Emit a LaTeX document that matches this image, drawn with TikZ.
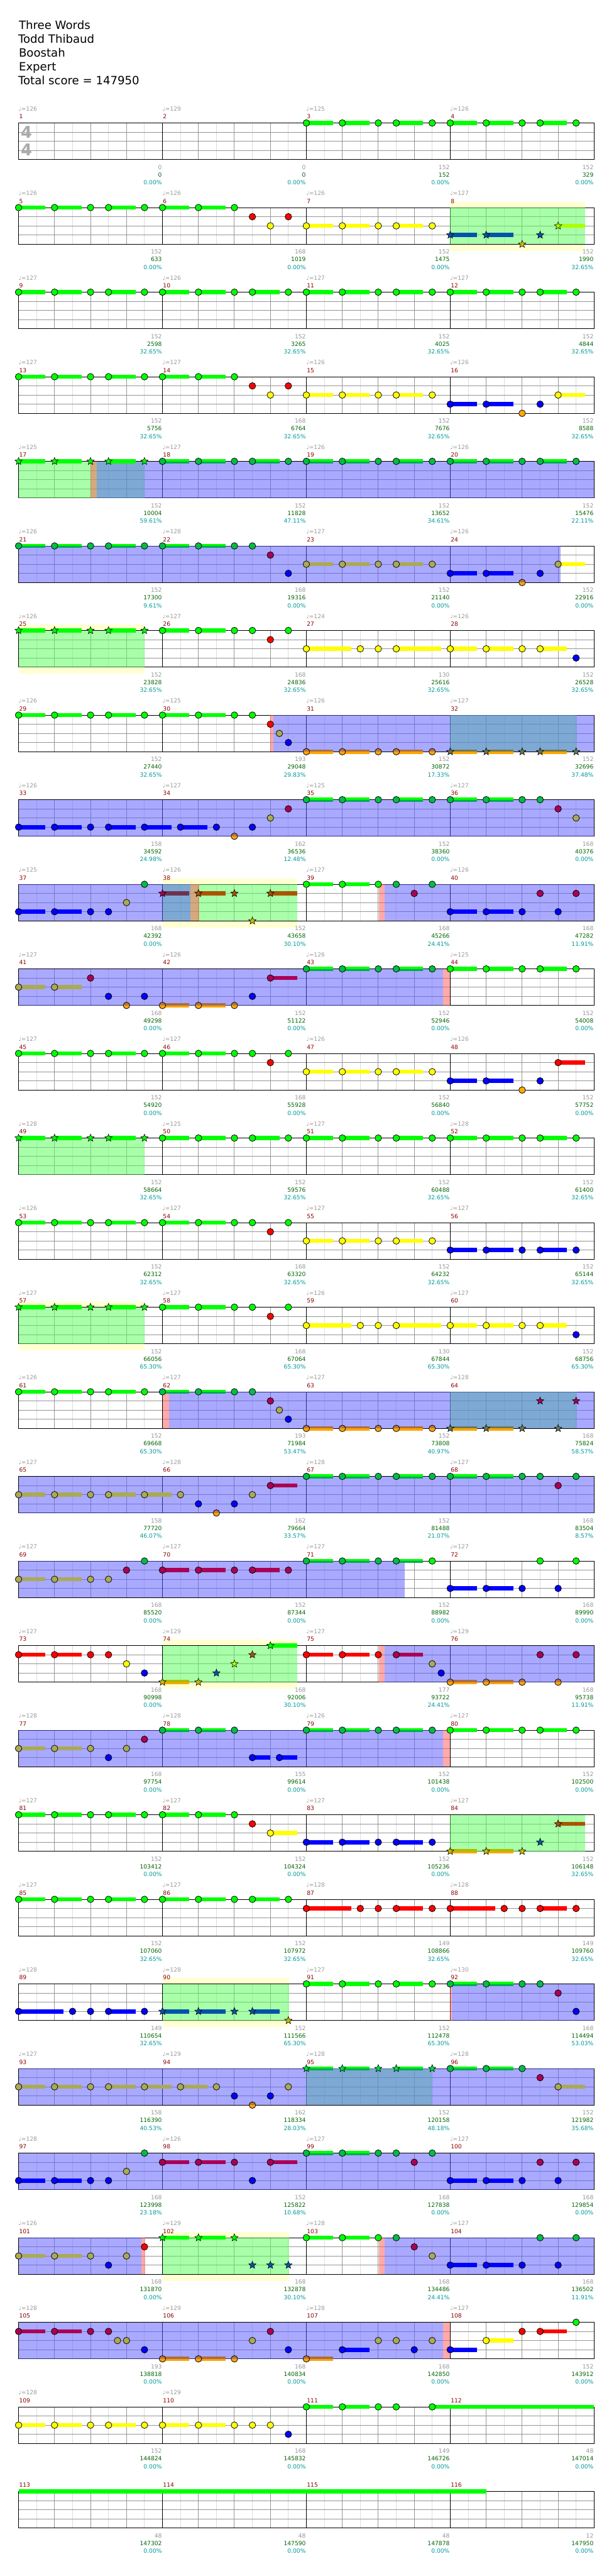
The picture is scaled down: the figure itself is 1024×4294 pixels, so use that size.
\documentclass[tikz,border=0pt]{standalone}
\usepackage{fontspec}
\setmainfont{DejaVu Sans}
\usetikzlibrary{shapes.geometric}
\definecolor{cTempo}{RGB}{155,155,155}
\definecolor{cNum}{RGB}{139,0,0}
\definecolor{cA}{RGB}{150,150,150}
\definecolor{cB}{RGB}{0,100,0}
\definecolor{cC}{RGB}{0,153,153}
\definecolor{cGrid}{RGB}{150,150,150}
\definecolor{cLight}{RGB}{220,220,220}
\definecolor{cYel}{RGB}{255,255,210}
\definecolor{cTS}{RGB}{170,170,170}
\definecolor{ovG}{RGB}{85,255,85}
\definecolor{ovB}{RGB}{85,85,255}
\definecolor{ovR}{RGB}{255,85,85}
\newcommand\dnc[3]{\definecolor{nT#1}{RGB}{#2}\definecolor{nB#1}{RGB}{#3}}
\newcommand\dsc[3]{\definecolor{uT#1}{RGB}{#2}\definecolor{uB#1}{RGB}{#3}}
\dnc{Gn}{0,255,0}{0,255,0}\dnc{Rn}{255,0,0}{255,0,0}\dnc{Yn}{255,255,0}{255,255,0}
\dnc{Bn}{0,0,255}{0,0,255}\dnc{On}{255,170,0}{255,170,0}
\dnc{Gt}{0,190,70}{0,190,70}\dnc{Rt}{170,0,85}{170,0,85}\dnc{Yt}{170,170,85}{170,170,85}
\dnc{Bt}{0,0,255}{0,0,255}\dnc{Ot}{180,115,70}{255,165,0}
\dnc{Gs}{0,255,0}{0,255,0}\dnc{Rs}{170,85,0}{170,85,0}\dnc{Ys}{170,255,0}{170,255,0}
\dnc{Bs}{0,85,170}{0,85,170}\dnc{Os}{200,190,0}{200,190,0}
\dnc{Gx}{0,220,60}{0,220,60}\dnc{Rx}{170,0,85}{170,0,85}\dnc{Yx}{170,170,85}{170,170,85}
\dnc{Bx}{0,0,200}{0,0,200}\dnc{Ox}{100,120,90}{100,120,90}
\dsc{Gn}{0,255,0}{0,255,0}\dsc{Rn}{255,0,0}{255,0,0}\dsc{Yn}{255,255,0}{255,255,0}
\dsc{Bn}{0,0,255}{0,0,255}\dsc{On}{255,170,0}{255,170,0}
\dsc{Gt}{0,255,0}{0,170,85}\dsc{Rt}{170,0,85}{170,0,85}\dsc{Yt}{170,170,85}{170,170,85}
\dsc{Bt}{0,0,255}{0,0,255}\dsc{Ot}{170,110,70}{255,165,0}
\dsc{Gs}{0,255,0}{0,255,0}\dsc{Rs}{170,85,0}{170,85,0}\dsc{Ys}{170,255,0}{170,255,0}
\dsc{Bs}{0,85,170}{0,85,170}\dsc{Os}{170,190,0}{255,165,0}
\dsc{Gx}{0,255,0}{0,170,85}\dsc{Rx}{110,50,80}{110,50,80}\dsc{Yx}{170,170,85}{170,170,85}
\dsc{Bx}{0,0,200}{0,0,200}\dsc{Ox}{110,120,80}{255,165,0}
\def\lnG{0}\def\lnR{1}\def\lnY{2}\def\lnB{3}\def\lnO{4}
\tikzset{
  lbl/.style={inner sep=0pt,outer sep=0pt,font=\fontsize{9.6}{10}\selectfont},
  tempo/.style={lbl,text=cTempo,anchor=base west},
  mnum/.style={lbl,text=cNum,anchor=base west},
  labA/.style={lbl,text=cA,anchor=base east},
  labB/.style={lbl,text=cB,anchor=base east},
  labC/.style={lbl,text=cC,anchor=base east},
  ttl/.style={inner sep=0pt,anchor=base west,font=\fontsize{19}{22}\selectfont},
  tsig/.style={inner sep=0pt,text=cTS,font=\fontsize{27}{27}\bfseries\selectfont},
  starnote/.style={star,star points=5,star point ratio=2.3,minimum size=13pt,inner sep=0pt,draw=black,line width=0.6pt}
}
\newcommand\staffrow[1]{%
  \pgfmathsetmacro\qt{205+141*(#1)}%
  \fill[white] (31,\qt) rectangle (991,\qt+61);
  \foreach \i in {1,3,...,31} \draw[cLight] ({31+30*\i},\qt) -- ++(0,61);
  \foreach \i in {2,4,6,10,12,14,18,20,22,26,28,30} \draw[cGrid] ({31+30*\i},\qt) -- ++(0,61);
  \foreach \j in {1,2,3} \draw[cGrid] (31,\qt+15.25*\j) -- (991,\qt+15.25*\j);
  \foreach \k in {1,2,3} \draw[black] ({31+240*\k},\qt) -- ++(0,61);
  \draw[black] (31,\qt) rectangle (991,\qt+61);}
\newcommand\yband[3]{\fill[cYel] (#2,{205+141*(#1)-10}) rectangle (#3,{205+141*(#1)+72});}
\newcommand\ovl[4]{\fill[#4,opacity=0.5] (#2,{205+141*(#1)}) rectangle (#3,{205+141*(#1)+61});}
\newcommand\noteC[4]{%
  \pgfmathsetmacro\qx{31+15*(#2)}%
  \pgfmathsetmacro\qy{205+141*(#1)+15.25*\csname ln#3\endcsname}%
  \fill[nT#3#4] (\qx,\qy) circle[radius=5.5];
  \fill[nB#3#4] (\qx-5.5,\qy) arc[start angle=180,end angle=0,radius=5.5] -- cycle;
  \draw[line width=0.8pt] (\qx,\qy) circle[radius=5.5];}
\newcommand\susC[5]{%
  \pgfmathsetmacro\qx{31+15*(#2)}%
  \pgfmathsetmacro\qy{205+141*(#1)+15.25*\csname ln#3\endcsname}%
  \pgfmathsetmacro\qw{15*(#4)}%
  \fill[uT#3#5] (\qx,\qy-3.5) rectangle ++(\qw,3.5);
  \fill[uB#3#5] (\qx,\qy) rectangle ++(\qw,3.5);}
\newcommand\starC[4]{%
  \pgfmathsetmacro\qx{31+15*(#2)}%
  \pgfmathsetmacro\qy{205+141*(#1)+15.25*\csname ln#3\endcsname}%
  \node[starnote,fill=nT#3#4] at (\qx,\qy) {};}
\newcommand\noteS[5]{\susC{#1}{#2}{#3}{#5}{#4}\noteC{#1}{#2}{#3}{#4}}
\newcommand\starS[5]{\susC{#1}{#2}{#3}{#5}{#4}\starC{#1}{#2}{#3}{#4}}
\newcommand\patA[4]{\noteS{#1}{16*#2}{#3}{#4}{3}\noteS{#1}{16*#2+4}{#3}{#4}{3}\noteC{#1}{16*#2+8}{#3}{#4}\noteS{#1}{16*#2+10}{#3}{#4}{3}\noteC{#1}{16*#2+14}{#3}{#4}}
\newcommand\patS[4]{\starS{#1}{16*#2}{#3}{#4}{3}\starS{#1}{16*#2+4}{#3}{#4}{3}\starC{#1}{16*#2+8}{#3}{#4}\starS{#1}{16*#2+10}{#3}{#4}{3}\starC{#1}{16*#2+14}{#3}{#4}}
\newcommand\meas[7]{%
  \pgfmathsetmacro\qm{31+240*(#2)}%
  \pgfmathsetmacro\qt{205+141*(#1)}%
  \if\relax\detokenize{#3}\relax\else\node[tempo] (t#4) at (\qm,\qt-20) {♩=#3};\fi
  \node[mnum] (n#4) at (\qm+1,\qt-7) {#4};
  \node[labA] (a#4) at (\qm+239,\qt+77) {#5};
  \node[labB] (b#4) at (\qm+239,\qt+90) {#6};
  \node[labC] (c#4) at (\qm+239,\qt+103) {#7\%};}
\begin{document}
\begin{tikzpicture}[x=1pt,y=-1pt,line width=1pt]
\useasboundingbox (0,0) rectangle (1024,4294);
\fill[white] (0,0) rectangle (1024,4294);
% title
\node[ttl] (ttl1) at (31,49) {Three Words};
\node[ttl] (ttl2) at (30,72) {Todd Thibaud};
\node[ttl] (ttl3) at (31,95) {Boostah};
\node[ttl] (ttl4) at (31,118) {Expert};
\node[ttl] (ttl5) at (30,141) {Total score = 147950};
% star-phrase bands
\yband{1}{751}{976}\yband{6}{31}{241}\yband{9}{271}{496}\yband{14}{31}{241}
\yband{18}{271}{496}\yband{22}{271}{482}\yband{25}{271}{482}
% staves
\foreach \r in {0,...,28} {\staffrow{\r}}
\node[tsig] (ts1) at (44,220) {4};
\node[tsig] (ts2) at (44,250) {4};
% overlays
\ovl{1}{751}{976}{ovG}
\ovl{4}{31}{241}{ovG}\ovl{4}{151}{161}{ovR}\ovl{4}{161}{991}{ovB}
\ovl{5}{31}{935}{ovB}
\ovl{6}{31}{241}{ovG}
\ovl{7}{751}{962}{ovG}\ovl{7}{451}{456}{ovR}\ovl{7}{456}{991}{ovB}
\ovl{8}{31}{991}{ovB}
\ovl{9}{271}{496}{ovG}\ovl{9}{31}{318}{ovB}\ovl{9}{318}{332}{ovR}\ovl{9}{632}{642}{ovR}\ovl{9}{642}{991}{ovB}
\ovl{10}{31}{739}{ovB}\ovl{10}{739}{751}{ovR}
\ovl{12}{31}{241}{ovG}
\ovl{14}{31}{241}{ovG}
\ovl{15}{751}{962}{ovG}\ovl{15}{271}{282}{ovR}\ovl{15}{282}{991}{ovB}
\ovl{16}{31}{991}{ovB}
\ovl{17}{31}{675}{ovB}
\ovl{18}{271}{496}{ovG}\ovl{18}{632}{642}{ovR}\ovl{18}{642}{991}{ovB}
\ovl{19}{31}{739}{ovB}\ovl{19}{739}{751}{ovR}
\ovl{20}{751}{976}{ovG}
\ovl{22}{271}{482}{ovG}\ovl{22}{751}{754}{ovR}\ovl{22}{754}{991}{ovB}
\ovl{23}{511}{721}{ovG}\ovl{23}{31}{991}{ovB}
\ovl{24}{31}{991}{ovB}
\ovl{25}{31}{236}{ovB}\ovl{25}{236}{242}{ovR}\ovl{25}{271}{482}{ovG}\ovl{25}{632}{642}{ovR}\ovl{25}{642}{991}{ovB}
\ovl{26}{31}{739}{ovB}\ovl{26}{739}{751}{ovR}
% ---------------- notes
% r0
\patA{0}{2}{G}{n}\patA{0}{3}{G}{n}
% r1
\patA{1}{0}{G}{n}
\noteS{1}{16}{G}{n}{3}\noteS{1}{20}{G}{n}{3}\noteC{1}{24}{G}{n}\noteC{1}{26}{R}{n}\noteC{1}{28}{Y}{n}\noteC{1}{30}{R}{n}
\patA{1}{2}{Y}{n}
\starS{1}{48}{B}{s}{3}\starS{1}{52}{B}{s}{3}\starC{1}{56}{O}{s}\starC{1}{58}{B}{s}\starS{1}{60}{Y}{s}{3}
% r2
\patA{2}{0}{G}{n}\patA{2}{1}{G}{n}\patA{2}{2}{G}{n}\patA{2}{3}{G}{n}
% r3
\patA{3}{0}{G}{n}
\noteS{3}{16}{G}{n}{3}\noteS{3}{20}{G}{n}{3}\noteC{3}{24}{G}{n}\noteC{3}{26}{R}{n}\noteC{3}{28}{Y}{n}\noteC{3}{30}{R}{n}
\patA{3}{2}{Y}{n}
\noteS{3}{48}{B}{n}{3}\noteS{3}{52}{B}{n}{3}\noteC{3}{56}{O}{n}\noteC{3}{58}{B}{n}\noteS{3}{60}{Y}{n}{3}
% r4
\patS{4}{0}{G}{s}\patA{4}{1}{G}{t}\patA{4}{2}{G}{t}\patA{4}{3}{G}{t}
% r5
\patA{5}{0}{G}{t}
\noteS{5}{16}{G}{t}{3}\noteS{5}{20}{G}{t}{3}\noteC{5}{24}{G}{t}\noteC{5}{26}{G}{t}\noteC{5}{28}{R}{t}\noteC{5}{30}{B}{t}
\patA{5}{2}{Y}{t}
\noteS{5}{48}{B}{t}{3}\noteS{5}{52}{B}{t}{3}\noteC{5}{56}{O}{t}\noteC{5}{58}{B}{t}\susC{5}{60}{Y}{3}{n}\noteC{5}{60}{Y}{t}
% r6
\patS{6}{0}{G}{s}
\noteS{6}{16}{G}{n}{3}\noteS{6}{20}{G}{n}{3}\noteC{6}{24}{G}{n}\noteC{6}{26}{G}{n}\noteC{6}{28}{R}{n}\noteC{6}{30}{G}{n}
\noteS{6}{32}{Y}{n}{5}\noteC{6}{38}{Y}{n}\noteC{6}{40}{Y}{n}\noteS{6}{42}{Y}{n}{5}
\noteS{6}{48}{Y}{n}{3}\noteS{6}{52}{Y}{n}{3}\noteC{6}{56}{Y}{n}\noteS{6}{58}{Y}{n}{3}\noteC{6}{62}{B}{n}
% r7
\patA{7}{0}{G}{n}
\noteS{7}{16}{G}{n}{3}\noteS{7}{20}{G}{n}{3}\noteC{7}{24}{G}{n}\noteC{7}{26}{G}{n}\noteC{7}{28}{R}{n}\noteC{7}{29}{Y}{t}\noteC{7}{30}{B}{t}
\patA{7}{2}{O}{t}\patS{7}{3}{O}{x}
% r8
\noteS{8}{0}{B}{t}{3}\noteS{8}{4}{B}{t}{3}\noteC{8}{8}{B}{t}\noteS{8}{10}{B}{t}{3}\noteS{8}{14}{B}{t}{3}
\noteS{8}{18}{B}{t}{3}\noteC{8}{22}{B}{t}\noteC{8}{24}{O}{t}\noteC{8}{26}{B}{t}\noteC{8}{28}{Y}{t}\noteC{8}{30}{R}{t}
\patA{8}{2}{G}{t}
\noteS{8}{48}{G}{t}{3}\noteS{8}{52}{G}{t}{3}\noteC{8}{56}{G}{t}\noteC{8}{58}{G}{t}\noteC{8}{60}{R}{t}\noteC{8}{62}{Y}{t}
% r9
\noteS{9}{0}{B}{t}{3}\noteS{9}{4}{B}{t}{3}\noteC{9}{8}{B}{t}\noteC{9}{10}{B}{t}\noteC{9}{12}{Y}{t}\noteC{9}{14}{G}{t}
\starS{9}{16}{R}{x}{3}\starS{9}{20}{R}{s}{3}\starC{9}{24}{R}{s}\starC{9}{26}{O}{s}\starS{9}{28}{R}{s}{3}
\noteS{9}{32}{G}{n}{3}\noteS{9}{36}{G}{n}{3}\noteC{9}{40}{G}{n}\noteC{9}{42}{G}{t}\noteC{9}{44}{R}{t}\noteC{9}{46}{G}{t}
\noteS{9}{48}{B}{t}{3}\noteS{9}{52}{B}{t}{3}\noteC{9}{56}{B}{t}\noteC{9}{58}{R}{t}\noteC{9}{60}{B}{t}\noteC{9}{62}{R}{t}
% r10
\noteS{10}{0}{Y}{t}{3}\noteS{10}{4}{Y}{t}{3}\noteC{10}{8}{R}{t}\noteC{10}{10}{B}{t}\noteC{10}{12}{O}{t}\noteC{10}{14}{B}{t}
\noteS{10}{16}{O}{t}{3}\noteS{10}{20}{O}{t}{3}\noteC{10}{24}{O}{t}\noteC{10}{26}{B}{t}\noteS{10}{28}{R}{t}{3}
\patA{10}{2}{G}{t}\patA{10}{3}{G}{n}
% r11
\patA{11}{0}{G}{n}
\noteS{11}{16}{G}{n}{3}\noteS{11}{20}{G}{n}{3}\noteC{11}{24}{G}{n}\noteC{11}{26}{G}{n}\noteC{11}{28}{R}{n}\noteC{11}{30}{G}{n}
\patA{11}{2}{Y}{n}
\noteS{11}{48}{B}{n}{3}\noteS{11}{52}{B}{n}{3}\noteC{11}{56}{O}{n}\noteC{11}{58}{B}{n}\noteS{11}{60}{R}{n}{3}
% r12
\patS{12}{0}{G}{s}\patA{12}{1}{G}{n}\patA{12}{2}{G}{n}\patA{12}{3}{G}{n}
% r13
\patA{13}{0}{G}{n}
\noteS{13}{16}{G}{n}{3}\noteS{13}{20}{G}{n}{3}\noteC{13}{24}{G}{n}\noteC{13}{26}{G}{n}\noteC{13}{28}{R}{n}\noteC{13}{30}{G}{n}
\patA{13}{2}{Y}{n}\patA{13}{3}{B}{n}
% r14
\patS{14}{0}{G}{s}
\noteS{14}{16}{G}{n}{3}\noteS{14}{20}{G}{n}{3}\noteC{14}{24}{G}{n}\noteC{14}{26}{G}{n}\noteC{14}{28}{R}{n}\noteC{14}{30}{G}{n}
\noteS{14}{32}{Y}{n}{5}\noteC{14}{38}{Y}{n}\noteC{14}{40}{Y}{n}\noteS{14}{42}{Y}{n}{5}
\noteS{14}{48}{Y}{n}{3}\noteS{14}{52}{Y}{n}{3}\noteC{14}{56}{Y}{n}\noteS{14}{58}{Y}{n}{3}\noteC{14}{62}{B}{n}
% r15
\patA{15}{0}{G}{n}
\noteS{15}{16}{G}{t}{3}\noteS{15}{20}{G}{t}{3}\noteC{15}{24}{G}{t}\noteC{15}{26}{G}{t}\noteC{15}{28}{R}{t}\noteC{15}{29}{Y}{t}\noteC{15}{30}{B}{t}
\patA{15}{2}{O}{t}
\starS{15}{48}{O}{x}{3}\starS{15}{52}{O}{x}{3}\starC{15}{56}{O}{x}\starC{15}{58}{R}{x}\starC{15}{60}{O}{x}\starC{15}{62}{R}{x}
% r16
\noteS{16}{0}{Y}{t}{3}\noteS{16}{4}{Y}{t}{3}\noteC{16}{8}{Y}{t}\noteS{16}{10}{Y}{t}{3}\noteS{16}{14}{Y}{t}{3}
\noteC{16}{18}{Y}{t}\noteC{16}{20}{B}{t}\noteC{16}{22}{O}{t}\noteC{16}{24}{B}{t}\noteC{16}{26}{Y}{t}\noteS{16}{28}{R}{t}{3}
\patA{16}{2}{G}{t}
\noteS{16}{48}{G}{t}{3}\noteS{16}{52}{G}{t}{3}\noteC{16}{56}{G}{t}\noteC{16}{58}{G}{t}\noteC{16}{60}{R}{t}\noteC{16}{62}{G}{t}
% r17
\noteS{17}{0}{Y}{t}{3}\noteS{17}{4}{Y}{t}{3}\noteC{17}{8}{Y}{t}\noteC{17}{10}{Y}{t}\noteC{17}{12}{R}{t}\noteC{17}{14}{G}{t}
\noteS{17}{16}{R}{t}{3}\noteS{17}{20}{R}{t}{3}\noteC{17}{24}{R}{t}\noteS{17}{26}{R}{t}{3}\noteC{17}{30}{R}{t}
\noteS{17}{32}{G}{t}{3}\noteS{17}{36}{G}{t}{3}\noteC{17}{40}{G}{t}\noteS{17}{42}{G}{t}{3}\noteC{17}{46}{G}{n}
\noteS{17}{48}{B}{n}{3}\noteS{17}{52}{B}{n}{3}\noteC{17}{56}{B}{n}\noteC{17}{58}{G}{n}\noteC{17}{60}{B}{n}\noteC{17}{62}{G}{n}
% r18
\noteS{18}{0}{R}{n}{3}\noteS{18}{4}{R}{n}{3}\noteC{18}{8}{R}{n}\noteC{18}{10}{R}{n}\noteC{18}{12}{Y}{n}\noteC{18}{14}{B}{n}
\starS{18}{16}{O}{s}{3}\starC{18}{20}{O}{s}\starC{18}{22}{B}{s}\starC{18}{24}{Y}{s}\starC{18}{26}{R}{s}\starS{18}{28}{G}{s}{3}
\noteS{18}{32}{R}{n}{3}\noteS{18}{36}{R}{n}{3}\noteC{18}{40}{R}{n}\noteS{18}{42}{R}{t}{3}\noteC{18}{46}{Y}{t}\noteC{18}{47}{B}{t}
\noteS{18}{48}{O}{t}{3}\noteS{18}{52}{O}{t}{3}\noteC{18}{56}{O}{t}\noteC{18}{58}{R}{t}\noteC{18}{60}{O}{t}\noteC{18}{62}{R}{t}
% r19
\noteS{19}{0}{Y}{t}{3}\noteS{19}{4}{Y}{t}{3}\noteC{19}{8}{Y}{t}\noteC{19}{10}{B}{t}\noteC{19}{12}{Y}{t}\noteC{19}{14}{R}{t}
\noteS{19}{16}{G}{t}{3}\noteS{19}{20}{G}{t}{3}\noteC{19}{24}{G}{t}\noteS{19}{26}{B}{t}{2}\noteS{19}{29}{B}{t}{2}
\patA{19}{2}{G}{t}\patA{19}{3}{G}{n}
% r20
\patA{20}{0}{G}{n}
\noteS{20}{16}{G}{n}{3}\noteS{20}{20}{G}{n}{3}\noteC{20}{24}{G}{n}\noteC{20}{26}{R}{n}\noteS{20}{28}{Y}{n}{3}
\patA{20}{2}{B}{n}
\starS{20}{48}{O}{s}{3}\starS{20}{52}{O}{s}{3}\starC{20}{56}{O}{s}\starC{20}{58}{B}{s}\starS{20}{60}{R}{s}{3}
% r21
\patA{21}{0}{G}{n}\patA{21}{1}{G}{n}
\noteS{21}{32}{R}{n}{5}\noteC{21}{38}{R}{n}\noteC{21}{40}{R}{n}\noteS{21}{42}{R}{n}{3}\noteC{21}{46}{R}{n}
\noteS{21}{48}{R}{n}{5}\noteC{21}{54}{R}{n}\noteC{21}{56}{R}{n}\noteS{21}{58}{R}{n}{3}\noteC{21}{62}{R}{n}
% r22
\noteS{22}{0}{B}{n}{5}\noteC{22}{6}{B}{n}\noteC{22}{8}{B}{n}\noteS{22}{10}{B}{n}{3}\noteC{22}{14}{B}{n}
\starS{22}{16}{B}{s}{3}\starS{22}{20}{B}{s}{3}\starC{22}{24}{B}{s}\starS{22}{26}{B}{s}{3}\starC{22}{30}{O}{s}
\patA{22}{2}{G}{n}
\noteS{22}{48}{G}{t}{3}\noteS{22}{52}{G}{t}{3}\noteC{22}{56}{G}{t}\noteC{22}{58}{G}{t}\noteC{22}{60}{R}{t}\noteC{22}{62}{B}{t}
% r23
\noteS{23}{0}{Y}{t}{3}\noteS{23}{4}{Y}{t}{3}\noteC{23}{8}{Y}{t}\noteS{23}{10}{Y}{t}{3}\noteS{23}{14}{Y}{t}{3}
\noteS{23}{18}{Y}{t}{3}\noteC{23}{22}{Y}{t}\noteC{23}{24}{B}{t}\noteC{23}{26}{O}{t}\noteC{23}{28}{B}{t}\noteC{23}{30}{Y}{t}
\patS{23}{2}{G}{x}
\noteS{23}{48}{G}{t}{3}\noteS{23}{52}{G}{t}{3}\noteC{23}{56}{G}{t}\noteC{23}{58}{R}{t}\noteS{23}{60}{Y}{t}{3}
% r24
\noteS{24}{0}{B}{t}{3}\noteS{24}{4}{B}{t}{3}\noteC{24}{8}{B}{t}\noteC{24}{10}{B}{t}\noteC{24}{12}{Y}{t}\noteC{24}{14}{G}{t}
\noteS{24}{16}{R}{t}{3}\noteS{24}{20}{R}{t}{3}\noteC{24}{24}{R}{t}\noteC{24}{26}{B}{t}\noteS{24}{28}{R}{t}{3}
\noteS{24}{32}{G}{t}{3}\noteS{24}{36}{G}{t}{3}\noteC{24}{40}{G}{t}\noteC{24}{42}{G}{t}\noteC{24}{44}{R}{t}\noteC{24}{46}{G}{t}
\noteS{24}{48}{B}{t}{3}\noteS{24}{52}{B}{t}{3}\noteC{24}{56}{B}{t}\noteC{24}{58}{R}{t}\noteC{24}{60}{B}{t}\noteC{24}{62}{R}{t}
% r25
\noteS{25}{0}{Y}{t}{3}\noteS{25}{4}{Y}{t}{3}\noteC{25}{8}{Y}{t}\noteC{25}{10}{B}{t}\noteC{25}{12}{Y}{t}\noteC{25}{14}{R}{n}
\starS{25}{16}{G}{s}{3}\starS{25}{20}{G}{s}{3}\starC{25}{24}{G}{s}\starC{25}{26}{B}{s}\starC{25}{28}{B}{s}\starC{25}{30}{B}{s}
\noteS{25}{32}{G}{n}{3}\noteS{25}{36}{G}{n}{3}\noteC{25}{40}{G}{n}\noteC{25}{42}{G}{t}\noteC{25}{44}{R}{t}\noteC{25}{46}{Y}{t}
\noteS{25}{48}{B}{t}{3}\noteS{25}{52}{B}{t}{3}\noteC{25}{56}{B}{t}\noteC{25}{58}{G}{t}\noteC{25}{60}{B}{t}\noteC{25}{62}{G}{t}
% r26
\noteS{26}{0}{R}{t}{3}\noteS{26}{4}{R}{t}{3}\noteC{26}{8}{R}{t}\noteC{26}{10}{R}{t}\noteC{26}{11}{Y}{t}\noteC{26}{12}{Y}{t}\noteC{26}{14}{B}{t}
\noteS{26}{16}{O}{t}{3}\noteS{26}{20}{O}{t}{3}\noteC{26}{24}{O}{t}\noteC{26}{26}{Y}{t}\noteC{26}{28}{R}{t}\noteC{26}{30}{B}{t}
\noteS{26}{32}{O}{t}{3}\noteS{26}{36}{B}{t}{3}\noteC{26}{40}{Y}{t}\noteC{26}{42}{Y}{t}\noteC{26}{44}{B}{t}\noteC{26}{46}{Y}{t}
\susC{26}{48}{B}{3}{n}\noteC{26}{48}{B}{t}\noteS{26}{52}{Y}{n}{3}\noteC{26}{56}{R}{n}\noteS{26}{58}{R}{n}{3}\noteC{26}{62}{G}{n}
% r27
\patA{27}{0}{Y}{n}
\noteS{27}{16}{Y}{n}{3}\noteS{27}{20}{Y}{n}{3}\noteC{27}{24}{Y}{n}\noteC{27}{26}{Y}{n}\noteC{27}{28}{Y}{n}\noteC{27}{30}{B}{n}
\noteS{27}{32}{G}{n}{3}\noteS{27}{36}{G}{n}{3}\noteC{27}{40}{G}{n}\noteC{27}{42}{G}{n}\susC{27}{46}{G}{18}{n}\noteC{27}{46}{G}{n}
% r28
\susC{28}{0}{G}{52}{n}
% ---------------- labels
\meas{0}{0}{126}{1}{0}{0}{0.00}\meas{0}{1}{129}{2}{0}{0}{0.00}\meas{0}{2}{125}{3}{152}{152}{0.00}\meas{0}{3}{126}{4}{152}{329}{0.00}
\meas{1}{0}{126}{5}{152}{633}{0.00}\meas{1}{1}{126}{6}{168}{1019}{0.00}\meas{1}{2}{126}{7}{152}{1475}{0.00}\meas{1}{3}{127}{8}{152}{1990}{32.65}
\meas{2}{0}{127}{9}{152}{2598}{32.65}\meas{2}{1}{126}{10}{152}{3265}{32.65}\meas{2}{2}{127}{11}{152}{4025}{32.65}\meas{2}{3}{127}{12}{152}{4844}{32.65}
\meas{3}{0}{127}{13}{152}{5756}{32.65}\meas{3}{1}{127}{14}{168}{6764}{32.65}\meas{3}{2}{126}{15}{152}{7676}{32.65}\meas{3}{3}{126}{16}{152}{8588}{32.65}
\meas{4}{0}{125}{17}{152}{10004}{59.61}\meas{4}{1}{127}{18}{152}{11828}{47.11}\meas{4}{2}{126}{19}{152}{13652}{34.61}\meas{4}{3}{126}{20}{152}{15476}{22.11}
\meas{5}{0}{126}{21}{152}{17300}{9.61}\meas{5}{1}{128}{22}{168}{19316}{0.00}\meas{5}{2}{127}{23}{152}{21140}{0.00}\meas{5}{3}{126}{24}{152}{22916}{0.00}
\meas{6}{0}{126}{25}{152}{23828}{32.65}\meas{6}{1}{127}{26}{168}{24836}{32.65}\meas{6}{2}{124}{27}{130}{25616}{32.65}\meas{6}{3}{126}{28}{152}{26528}{32.65}
\meas{7}{0}{126}{29}{152}{27440}{32.65}\meas{7}{1}{125}{30}{193}{29048}{29.83}\meas{7}{2}{126}{31}{152}{30872}{17.33}\meas{7}{3}{127}{32}{152}{32696}{37.48}
\meas{8}{0}{126}{33}{158}{34592}{24.98}\meas{8}{1}{127}{34}{162}{36536}{12.48}\meas{8}{2}{125}{35}{152}{38360}{0.00}\meas{8}{3}{127}{36}{168}{40376}{0.00}
\meas{9}{0}{125}{37}{168}{42392}{0.00}\meas{9}{1}{126}{38}{152}{43658}{30.10}\meas{9}{2}{127}{39}{168}{45266}{24.41}\meas{9}{3}{126}{40}{168}{47282}{11.91}
\meas{10}{0}{127}{41}{168}{49298}{0.00}\meas{10}{1}{126}{42}{152}{51122}{0.00}\meas{10}{2}{126}{43}{152}{52946}{0.00}\meas{10}{3}{125}{44}{152}{54008}{0.00}
\meas{11}{0}{127}{45}{152}{54920}{0.00}\meas{11}{1}{127}{46}{168}{55928}{0.00}\meas{11}{2}{126}{47}{152}{56840}{0.00}\meas{11}{3}{126}{48}{152}{57752}{0.00}
\meas{12}{0}{128}{49}{152}{58664}{32.65}\meas{12}{1}{125}{50}{152}{59576}{32.65}\meas{12}{2}{127}{51}{152}{60488}{32.65}\meas{12}{3}{128}{52}{152}{61400}{32.65}
\meas{13}{0}{126}{53}{152}{62312}{32.65}\meas{13}{1}{127}{54}{168}{63320}{32.65}\meas{13}{2}{127}{55}{152}{64232}{32.65}\meas{13}{3}{127}{56}{152}{65144}{32.65}
\meas{14}{0}{127}{57}{152}{66056}{65.30}\meas{14}{1}{127}{58}{168}{67064}{65.30}\meas{14}{2}{126}{59}{130}{67844}{65.30}\meas{14}{3}{127}{60}{152}{68756}{65.30}
\meas{15}{0}{126}{61}{152}{69668}{65.30}\meas{15}{1}{127}{62}{193}{71984}{53.47}\meas{15}{2}{127}{63}{152}{73808}{40.97}\meas{15}{3}{128}{64}{168}{75824}{58.57}
\meas{16}{0}{127}{65}{158}{77720}{46.07}\meas{16}{1}{128}{66}{162}{79664}{33.57}\meas{16}{2}{128}{67}{152}{81488}{21.07}\meas{16}{3}{127}{68}{168}{83504}{8.57}
\meas{17}{0}{127}{69}{168}{85520}{0.00}\meas{17}{1}{127}{70}{152}{87344}{0.00}\meas{17}{2}{127}{71}{152}{88982}{0.00}\meas{17}{3}{127}{72}{168}{89990}{0.00}
\meas{18}{0}{127}{73}{168}{90998}{0.00}\meas{18}{1}{129}{74}{168}{92006}{30.10}\meas{18}{2}{127}{75}{177}{93722}{24.41}\meas{18}{3}{129}{76}{168}{95738}{11.91}
\meas{19}{0}{128}{77}{168}{97754}{0.00}\meas{19}{1}{128}{78}{155}{99614}{0.00}\meas{19}{2}{126}{79}{152}{101438}{0.00}\meas{19}{3}{127}{80}{152}{102500}{0.00}
\meas{20}{0}{127}{81}{152}{103412}{0.00}\meas{20}{1}{127}{82}{152}{104324}{0.00}\meas{20}{2}{127}{83}{152}{105236}{0.00}\meas{20}{3}{127}{84}{152}{106148}{32.65}
\meas{21}{0}{127}{85}{152}{107060}{32.65}\meas{21}{1}{127}{86}{152}{107972}{32.65}\meas{21}{2}{128}{87}{149}{108866}{32.65}\meas{21}{3}{128}{88}{149}{109760}{32.65}
\meas{22}{0}{128}{89}{149}{110654}{32.65}\meas{22}{1}{128}{90}{152}{111566}{65.30}\meas{22}{2}{127}{91}{152}{112478}{65.30}\meas{22}{3}{130}{92}{168}{114494}{53.03}
\meas{23}{0}{127}{93}{158}{116390}{40.53}\meas{23}{1}{129}{94}{162}{118334}{28.03}\meas{23}{2}{128}{95}{152}{120158}{48.18}\meas{23}{3}{128}{96}{152}{121982}{35.68}
\meas{24}{0}{128}{97}{168}{123998}{23.18}\meas{24}{1}{126}{98}{152}{125822}{10.68}\meas{24}{2}{127}{99}{168}{127838}{0.00}\meas{24}{3}{127}{100}{168}{129854}{0.00}
\meas{25}{0}{126}{101}{168}{131870}{0.00}\meas{25}{1}{129}{102}{168}{132878}{30.10}\meas{25}{2}{128}{103}{168}{134486}{24.41}\meas{25}{3}{127}{104}{168}{136502}{11.91}
\meas{26}{0}{128}{105}{193}{138818}{0.00}\meas{26}{1}{129}{106}{168}{140834}{0.00}\meas{26}{2}{128}{107}{168}{142850}{0.00}\meas{26}{3}{127}{108}{152}{143912}{0.00}
\meas{27}{0}{128}{109}{152}{144824}{0.00}\meas{27}{1}{129}{110}{168}{145832}{0.00}\meas{27}{2}{}{111}{149}{146726}{0.00}\meas{27}{3}{}{112}{48}{147014}{0.00}
\meas{28}{0}{}{113}{48}{147302}{0.00}\meas{28}{1}{}{114}{48}{147590}{0.00}\meas{28}{2}{}{115}{48}{147878}{0.00}\meas{28}{3}{}{116}{12}{147950}{0.00}
\end{tikzpicture}
\end{document}
